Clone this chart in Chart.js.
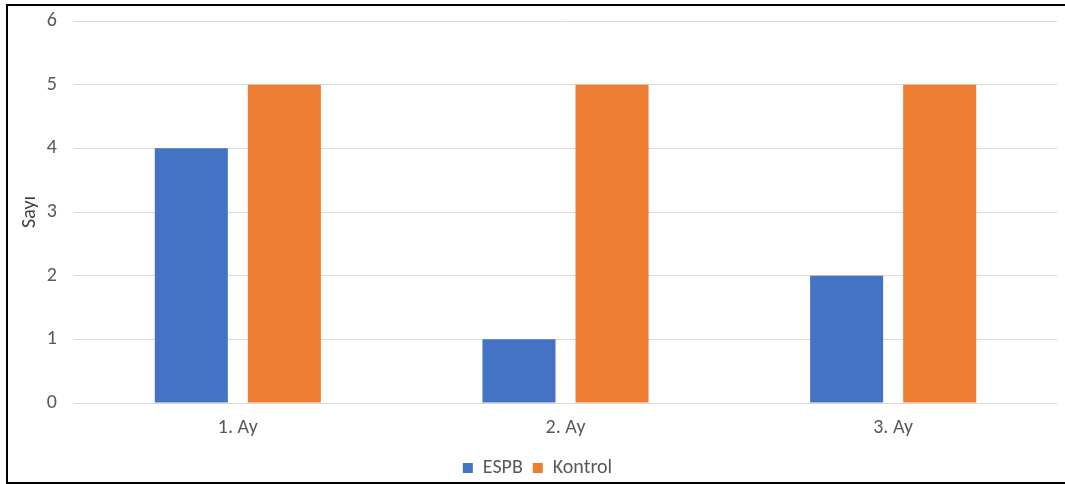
<!DOCTYPE html>
<html>
<head>
<meta charset="utf-8">
<script src="https://cdn.jsdelivr.net/npm/chart.js@4"></script>
<style>
  html, body { margin: 0; padding: 0; background: #fff; overflow: hidden; }
  #wrap { position: relative; width: 1065px; height: 484px; overflow: hidden; }
  #frame {
    position: absolute; left: 6px; top: 4px; width: 1065px; height: 476px;
    border-left: 2px solid #000; border-top: 2px solid #000; border-bottom: 2px solid #000;
    pointer-events: none;
  }
  canvas { position: absolute; left: 0; top: -8px; }
</style>
</head>
<body>
<div id="wrap">
  <canvas id="myChart" width="1065" height="496"></canvas>
  <div id="frame"></div>
</div>
<script>
const categories = ['1. Ay', '2. Ay', '3. Ay'];
const espbValues = [4, 1, 2];
const kontrolValues = [5, 5, 5];
const yTicks = [0, 1, 2, 3, 4, 5, 6];

const fontFamily = 'Carlito, Calibri, "Open Sans", "Noto Sans", sans-serif';

const ctx = document.getElementById('myChart').getContext('2d');
const myChart = new Chart(ctx, {
    type: 'bar',
    data: {
        labels: categories,
        datasets: [{
            label: 'ESPB',
            data: espbValues,
            backgroundColor: '#4472C4'
        }, {
            label: 'Kontrol',
            data: kontrolValues,
            backgroundColor: '#ED7D31'
        }]
    },
    options: {
        responsive: false,
        animation: false,
        categoryPercentage: 0.568,
        barPercentage: 0.785,
        layout: {
            padding: { left: 18, right: 8, top: 3, bottom: 0 }
        },
        scales: {
            y: {
                min: 0,
                max: 6,
                afterBuildTicks: (axis) => {
                    axis.ticks = yTicks.map(v => ({ value: v }));
                },
                afterFit: (axis) => { axis.width = 56; },
                grid: { color: '#d9d9d9', drawTicks: false },
                border: { display: false },
                ticks: {
                    color: '#595959',
                    padding: 17,
                    font: { family: fontFamily, size: 20 }
                },
                title: {
                    display: true,
                    text: 'Sayı',
                    color: '#404040',
                    padding: 0,
                    font: { family: fontFamily, size: 20 }
                }
            },
            x: {
                grid: { display: false },
                border: { display: false },
                afterFit: (axis) => { axis.height = 45; },
                ticks: {
                    color: '#595959',
                    padding: 5,
                    font: { family: fontFamily, size: 20 }
                }
            }
        },
        plugins: {
            legend: {
                position: 'bottom',
                labels: {
                    boxWidth: 10,
                    boxHeight: 10,
                    color: '#595959',
                    padding: 10,
                    font: { family: fontFamily, size: 20 }
                }
            },
            tooltip: { enabled: false }
        }
    }
});
</script>
</body>
</html>
